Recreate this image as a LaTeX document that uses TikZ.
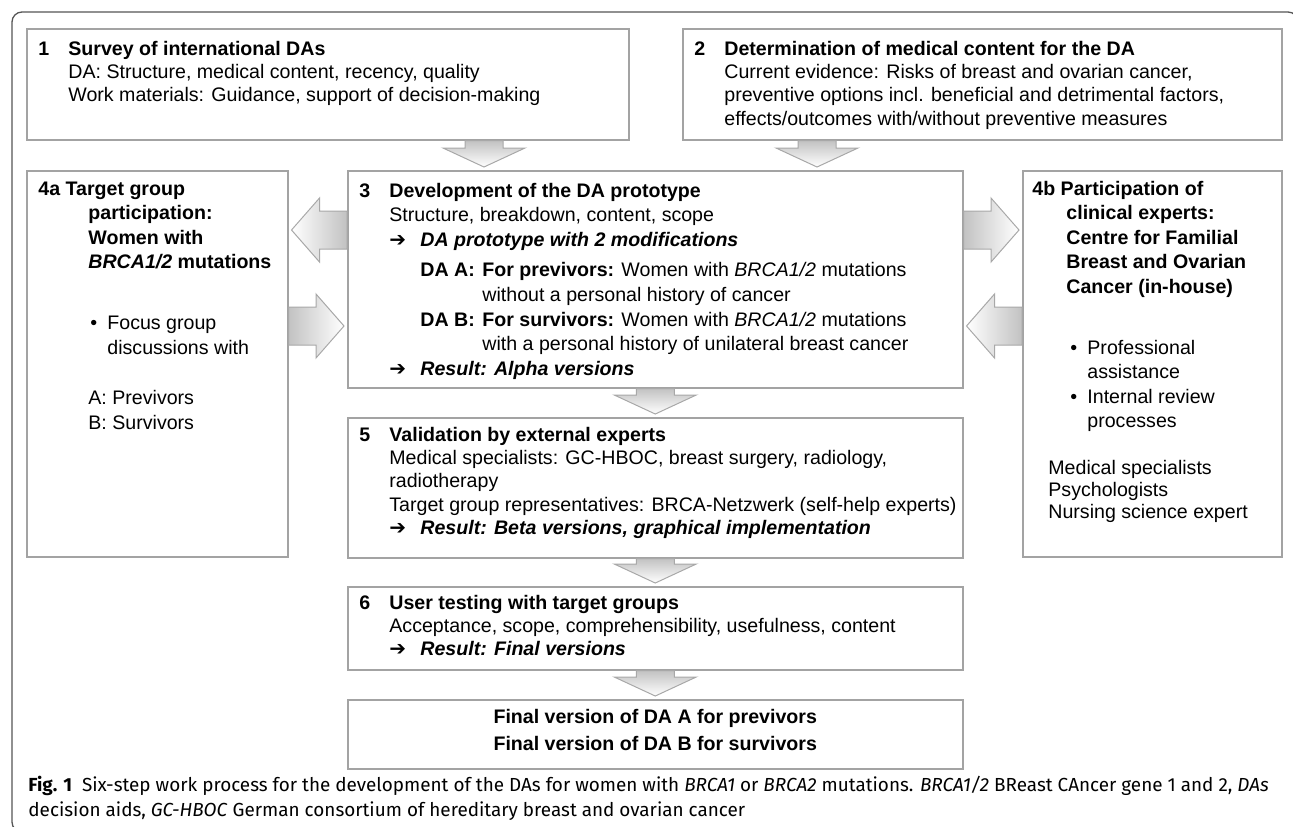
\documentclass[tikz,border=0pt]{standalone}
\usepackage{fontspec}
\setmainfont{Liberation Sans}
\newfontfamily\capfont{Fira Sans}
\newfontfamily\arrowfont{DejaVu Sans}
\usetikzlibrary{calc}

\definecolor{panelgray}{HTML}{A3A3A3}
\definecolor{framegray}{HTML}{555555}
\definecolor{arrowgray}{HTML}{A8A8A8}
\definecolor{shadegray}{HTML}{C2C2C2}

\newcommand{\resarrow}{{\arrowfont\fontsize{10}{10}\selectfont ➔}}

\tikzset{
  blockhead/.store in=\blockhead, blockwide/.store in=\blockwide,
  blockshaft/.store in=\blockshaft, blockgap/.store in=\blockgap,
  blockhead=14pt, blockwide=16pt, blockshaft=9.5pt, blockgap=1.5pt,
  blockarrow/.style={draw=arrowgray, line width=0.5pt,
    to path={
      ($(\tikztostart)!\blockshaft!90:(\tikztotarget)$)
      -- ($($(\tikztotarget)!\blockgap+\blockhead!(\tikztostart)$)!\blockshaft!-90:(\tikztostart)$)
      -- ($($(\tikztotarget)!\blockgap+\blockhead!(\tikztostart)$)!\blockwide!-90:(\tikztostart)$)
      -- ($(\tikztotarget)!\blockgap!(\tikztostart)$)
      -- ($($(\tikztotarget)!\blockgap+\blockhead!(\tikztostart)$)!\blockwide!90:(\tikztostart)$)
      -- ($($(\tikztotarget)!\blockgap+\blockhead!(\tikztostart)$)!\blockshaft!90:(\tikztostart)$)
      -- ($(\tikztostart)!\blockshaft!-90:(\tikztotarget)$)
      -- cycle}},
  flowdown/.style={blockarrow, blockhead=9.5pt, blockwide=20.5pt,
    top color=shadegray, bottom color=white},
  flowright/.style={blockarrow, left color=shadegray, right color=white},
  flowleft/.style={blockarrow, left color=white, right color=shadegray},
  panel/.style={draw=panelgray, line width=0.75pt, inner sep=0pt, anchor=north west},
  paneltext/.style={anchor=base west, inner sep=0pt, font=\fontsize{9.8}{11.7}\selectfont},
  widetext/.style={paneltext, font=\fontsize{9.8}{12.3}\selectfont},
  captext/.style={anchor=base west, inner sep=0pt, font=\capfont\fontsize{9.45}{12.5}\selectfont}
}

\begin{document}
\begin{tikzpicture}[x=0.5pt, y=-0.5pt]
  \useasboundingbox (0,0) rectangle (1293,826);

  % figure frame
  \draw[framegray, line width=0.65pt, rounded corners=5pt] (12,12) rectangle (1298,832);

  % boxes
  \node[panel, minimum width=301pt, minimum height=55.5pt] (b1) at (26,28) {};
  \node[panel, minimum width=299.5pt, minimum height=55.5pt] (b2) at (682,28) {};
  \node[panel, minimum width=130.5pt, minimum height=193pt] (b4a) at (26,170) {};
  \node[panel, minimum width=307.5pt, minimum height=108.5pt] (b3) at (347,170) {};
  \node[panel, minimum width=129.5pt, minimum height=193pt] (b4b) at (1022,170) {};
  \node[panel, minimum width=307.5pt, minimum height=70pt] (b5) at (347,417) {};
  \node[panel, minimum width=307.5pt, minimum height=41.5pt] (b6) at (347,586) {};
  \node[panel, minimum width=307.5pt, minimum height=34.5pt] (bfin) at (347,699) {};

  % texts
  \node[paneltext] (t1) at (38,55) {\begin{tabular}[t]{@{}p{15pt}@{}l@{}}
    \textbf{1} & \textbf{Survey of international DAs}\\
    & DA: Structure, medical content, recency, quality\\
    & Work materials: Guidance, support of decision-making
  \end{tabular}};
  \node[paneltext] (t2) at (694,55) {\begin{tabular}[t]{@{}p{15pt}@{}l@{}}
    \textbf{2} & \textbf{Determination of medical content for the DA}\\
    & Current evidence: Risks of breast and ovarian cancer,\\
    & preventive options incl. beneficial and detrimental factors,\\
    & effects/outcomes with/without preventive measures
  \end{tabular}};
  \node[widetext] (t3) at (359,197) {\begin{tabular}[t]{@{}p{15pt}@{}p{15.5pt}@{}p{31pt}@{}l@{}}
    \textbf{3} & \multicolumn{3}{@{}l@{}}{\textbf{Development of the DA prototype}}\\
    & \multicolumn{3}{@{}l@{}}{Structure, breakdown, content, scope}\\
    & \resarrow & \multicolumn{2}{@{}l@{}}{\textbf{\textit{DA prototype with 2 modifications}}}\\[3pt]
    & & \textbf{DA A:} & \textbf{For previvors:} Women with \textit{BRCA1/2} mutations\\
    & & & without a personal history of cancer\\
    & & \textbf{DA B:} & \textbf{For survivors:} Women with \textit{BRCA1/2} mutations\\
    & & & with a personal history of unilateral breast cancer\\
    & \resarrow & \multicolumn{2}{@{}l@{}}{\textbf{\textit{Result: Alpha versions}}}
  \end{tabular}};
  \node[widetext] (t4a) at (38,195) {\begin{tabular}[t]{@{}p{25pt}@{}l@{}}
    \multicolumn{2}{@{}l@{}}{\textbf{4a Target group}}\\
    & \textbf{participation:}\\
    & \textbf{Women with}\\
    & \textbf{\textit{BRCA1/2} mutations}\\[18pt]
    & \hspace{1pt}\makebox[8.5pt][l]{•}Focus group\\
    & \hspace{9.5pt}discussions with\\[13pt]
    & A: Previvors\\
    & B: Survivors
  \end{tabular}};
  \node[widetext] (t4b) at (1032,195) {\begin{tabular}[t]{@{}p{17pt}@{}l@{}}
    \multicolumn{2}{@{}l@{}}{\textbf{4b Participation of}}\\
    & \textbf{clinical experts:}\\
    & \textbf{Centre for Familial}\\
    & \textbf{Breast and Ovarian}\\
    & \textbf{Cancer (in-house)}\\[18pt]
    & \hspace{2pt}\makebox[8.5pt][l]{•}Professional\\
    & \hspace{10.5pt}assistance\\
    & \hspace{2pt}\makebox[8.5pt][l]{•}Internal review\\
    & \hspace{10.5pt}processes\\[11pt]
    \multicolumn{2}{@{}l@{}}{\hspace{8pt}Medical specialists}\\[-1.2pt]
    \multicolumn{2}{@{}l@{}}{\hspace{8pt}Psychologists}\\[-1.2pt]
    \multicolumn{2}{@{}l@{}}{\hspace{8pt}Nursing science expert}
  \end{tabular}};
  \node[paneltext] (t5) at (359,441) {\begin{tabular}[t]{@{}p{15pt}@{}l@{}}
    \textbf{5} & \textbf{Validation by external experts}\\
    & Medical specialists: GC-HBOC, breast surgery, radiology,\\
    & radiotherapy\\
    & Target group representatives: BRCA-Netzwerk (self-help experts)\\
    & \makebox[15.5pt][l]{\resarrow}\textbf{\textit{Result: Beta versions, graphical implementation}}
  \end{tabular}};
  \node[paneltext] (t6) at (359,609) {\begin{tabular}[t]{@{}p{15pt}@{}l@{}}
    \textbf{6} & \textbf{User testing with target groups}\\
    & Acceptance, scope, comprehensibility, usefulness, content\\
    & \makebox[15.5pt][l]{\resarrow}\textbf{\textit{Result: Final versions}}
  \end{tabular}};
  \node[widetext, anchor=base, font=\fontsize{9.8}{13.5}\selectfont] (tfin) at (bfin.north |- 0,723) {\begin{tabular}[t]{@{}c@{}}
    \textbf{Final version of DA A for previvors}\\
    \textbf{Final version of DA B for survivors}
  \end{tabular}};

  % block arrows
  \draw[flowdown] (b1.south -| 484,0) to (b3.north -| 484,0);
  \draw[flowdown] (b2.south -| 817,0) to (b3.north -| 817,0);
  \draw[flowleft] (b3.west |- 0,230) to (b4a.east |- 0,230);
  \draw[flowright] (b4a.east |- 0,326) to (b3.west |- 0,326);
  \draw[flowright] (b3.east |- 0,230) to (b4b.west |- 0,230);
  \draw[flowleft] (b4b.west |- 0,326) to (b3.east |- 0,326);
  \draw[flowdown] (b3.south) to (b5.north);
  \draw[flowdown] (b5.south) to (b6.north);
  \draw[flowdown] (b6.south) to (bfin.north);

  % caption
  \node[captext] (cap) at (28,791) {\begin{tabular}[t]{@{}l@{}}
    \textbf{Fig. 1}\hspace{5pt}Six-step work process for the development of the DAs for women with \textit{BRCA1} or \textit{BRCA2} mutations. \textit{BRCA1/2} BReast CAncer gene 1 and 2, \textit{DAs}\\
    decision aids, \textit{GC-HBOC} German consortium of hereditary breast and ovarian cancer
  \end{tabular}};
\end{tikzpicture}
\end{document}
